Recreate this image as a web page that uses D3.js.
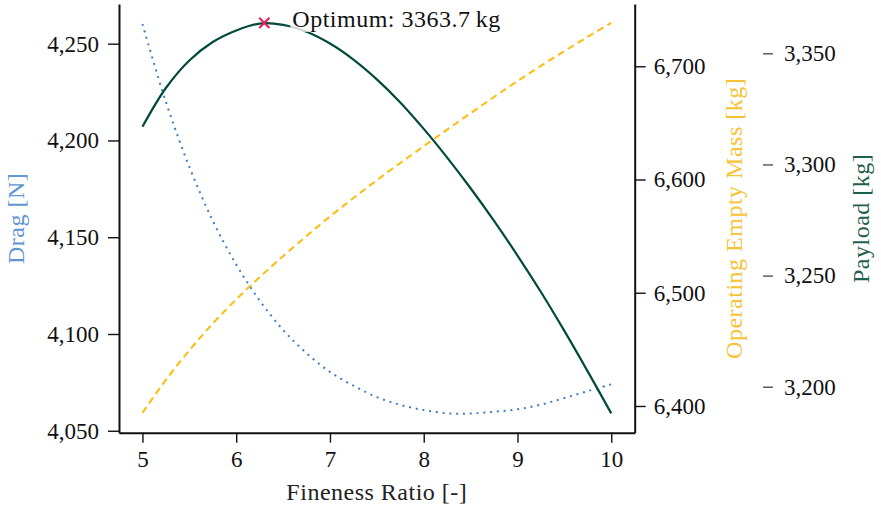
<!DOCTYPE html>
<html>
<head>
<meta charset="utf-8">
<script src="https://cdn.jsdelivr.net/npm/d3@7"></script>
<style>
  body { margin: 0; background: #fff; }
  svg { display: block; font-family: "Liberation Serif", "Times New Roman", serif; }
</style>
</head>
<body>
<svg width="881" height="512"></svg>
<script>
// fineness ratio samples
const fineness = [5, 5.25, 5.5, 5.75, 6, 6.25, 6.5, 6.75, 7, 7.25, 7.5,
                  7.75, 8, 8.25, 8.5, 8.75, 9, 9.25, 9.5, 9.75, 10];
const dragN = [4260.2, 4219.9, 4186.4, 4158.5, 4135.9, 4117.3, 4102.1, 4090.1, 4080.4, 4073.3, 4067.4,
               4063.4, 4060.7, 4059.0, 4058.9, 4059.8, 4061.1, 4063.5, 4066.9, 4070.5, 4074.0];
const oemKg = [6394.1, 6423.0, 6449.1, 6472.8, 6494.1, 6513.8, 6532.3, 6550.1, 6567.3, 6583.7, 6599.4,
               6614.6, 6629.4, 6644.1, 6658.6, 6672.9, 6686.9, 6700.4, 6713.4, 6726.1, 6738.3];
const payloadKg = [3317.0, 3334.4, 3346.8, 3355.1, 3360.3, 3363.4, 3362.8, 3359.7, 3354.4, 3347.2, 3338.3,
                   3327.9, 3316.0, 3303.1, 3289.3, 3274.6, 3259.0, 3242.6, 3225.1, 3206.8, 3188.0];
const optimumX = 6.3;
const optimumPayload = 3363.7;

const xTicks = [5, 6, 7, 8, 9, 10];
const dragTicks = [4050, 4100, 4150, 4200, 4250];
const oemTicks = [6400, 6500, 6600, 6700];
const payloadTicks = [3200, 3250, 3300, 3350];

const plotL = 119, plotR = 634.7, plotT = 4, plotB = 432.7;
const fs = 23, titleFs = 24;

const svg = d3.select('svg');

const x = d3.scaleLinear().domain([4.75, 10.25]).range([plotL, plotR]);
const yDrag = d3.scaleLinear().domain([4049, 4270.5]).range([plotB, plotT]);
const yOem = d3.scaleLinear().domain([6376.4, 6755]).range([plotB, plotT]);
const yPay = d3.scaleLinear().domain([3179.3, 3372.2]).range([plotB, plotT]);

function styleAxis(g) {
  g.attr('font-family', null);
  g.selectAll('text').style('font-size', fs + 'px').attr('fill', '#111');
  g.selectAll('.tick line').attr('stroke', '#111').attr('stroke-width', 1.4);
  g.select('.domain').attr('stroke', '#111').attr('stroke-width', 2);
}

svg.append('g')
  .attr('transform', `translate(0,${plotB})`)
  .call(d3.axisBottom(x).tickValues(xTicks).tickFormat(d3.format('d')).tickSize(10).tickSizeOuter(0).tickPadding(8))
  .call(styleAxis);

svg.append('g')
  .attr('transform', `translate(${plotL},0)`)
  .call(d3.axisLeft(yDrag).tickValues(dragTicks).tickFormat(d3.format(',')).tickSize(11).tickSizeOuter(0).tickPadding(9))
  .call(styleAxis);

svg.append('g')
  .attr('transform', `translate(${plotR},0)`)
  .call(d3.axisRight(yOem).tickValues(oemTicks).tickFormat(d3.format(',')).tickSize(11).tickSizeOuter(0).tickPadding(8))
  .call(styleAxis);

const payAxis = svg.append('g')
  .attr('transform', 'translate(763,0)')
  .call(d3.axisRight(yPay).tickValues(payloadTicks).tickFormat(d3.format(',')).tickSize(10).tickSizeOuter(0).tickPadding(11))
  .call(styleAxis);
payAxis.select('.domain').remove();
payAxis.selectAll('.tick line').attr('stroke', '#333').attr('stroke-width', 1.2);

// axis titles
svg.append('text')
  .attr('transform', `translate(${(plotL + plotR) / 2},500)`)
  .attr('text-anchor', 'middle')
  .style('font-size', titleFs + 'px')
  .style('letter-spacing', '0.5px')
  .attr('fill', '#222')
  .text('Fineness Ratio [-]');

function yTitle(tx, label, color) {
  svg.append('text')
    .attr('transform', `translate(${tx},${(plotT + plotB) / 2}) rotate(-90)`)
    .attr('text-anchor', 'middle')
    .style('font-size', titleFs + 'px')
    .style('letter-spacing', '0.5px')
    .attr('fill', color)
    .text(label);
}
yTitle(24, 'Drag [N]', '#5e95d3');
yTitle(742, 'Operating Empty Mass [kg]', '#f8c235');
yTitle(869, 'Payload [kg]', '#1f5f4c');

// lines
const rows = fineness.map((f, i) => ({f, drag: dragN[i], oem: oemKg[i], pay: payloadKg[i]}));
const curve = d3.curveCatmullRom.alpha(0.5);

svg.append('path')
  .datum(rows)
  .attr('fill', 'none')
  .attr('stroke', '#3f7cc6')
  .attr('stroke-width', 2)
  .attr('stroke-dasharray', '2,4.8')
  .attr('d', d3.line().curve(curve).x(d => x(d.f)).y(d => yDrag(d.drag)));

svg.append('path')
  .datum(rows)
  .attr('fill', 'none')
  .attr('stroke', '#fdbb0c')
  .attr('stroke-width', 2)
  .attr('stroke-dasharray', '7,4.5')
  .attr('d', d3.line().curve(curve).x(d => x(d.f)).y(d => yOem(d.oem)));

svg.append('path')
  .datum(rows)
  .attr('fill', 'none')
  .attr('stroke', '#004b3c')
  .attr('stroke-width', 2.2)
  .attr('d', d3.line().curve(curve).x(d => x(d.f)).y(d => yPay(d.pay)));

// optimum marker
const ox = x(optimumX), oy = yPay(optimumPayload);
svg.append('path')
  .attr('d', d3.symbol().type(d3.symbolX).size(70)())
  .attr('transform', `translate(${ox},${oy})`)
  .attr('fill', 'none')
  .attr('stroke', '#e21d5b')
  .attr('stroke-width', 2);

const optBg = svg.append('rect').attr('fill', '#fff').attr('opacity', 0.8);
const optLabel = svg.append('text')
  .attr('x', ox + 28)
  .attr('y', oy + 4)
  .style('font-size', titleFs + 'px')
  .style('letter-spacing', '0.5px')
  .attr('fill', '#111')
  .text(`Optimum: ${optimumPayload}\u2009kg`);
const bb = optLabel.node().getBBox();
optBg.attr('x', bb.x - 2).attr('y', bb.y)
  .attr('width', bb.width + 4).attr('height', bb.height);
</script>
</body>
</html>
